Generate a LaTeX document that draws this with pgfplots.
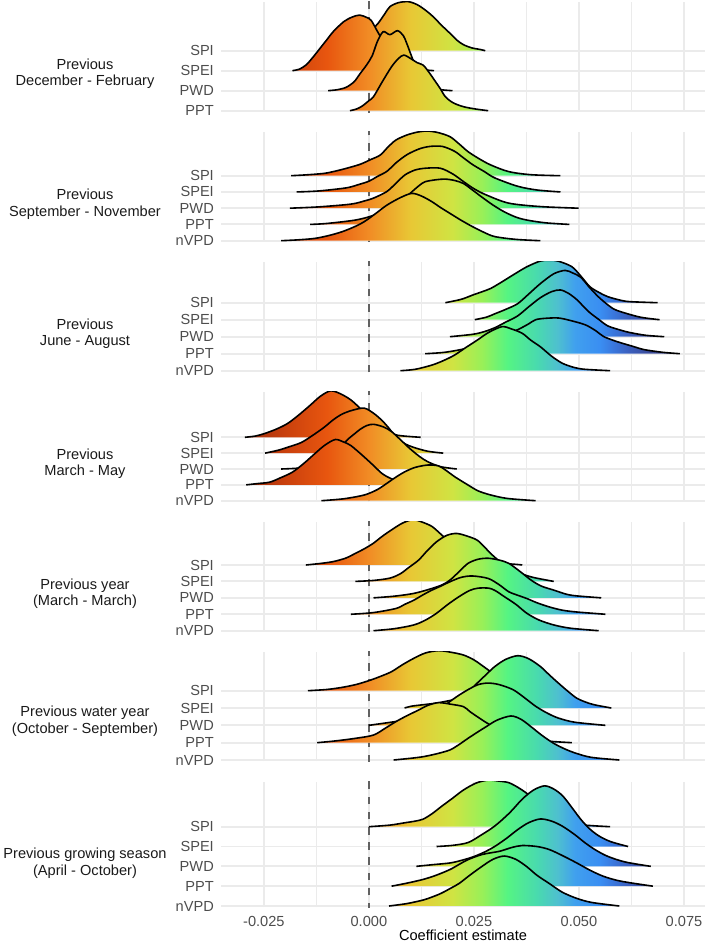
\documentclass[border=0pt]{standalone}
\usepackage{fontspec}
\setmainfont{Liberation Sans}
\usepackage{pgfplots}
\usepackage{pgfplotstable}
\pgfplotsset{compat=1.18}

\definecolor{gridgrey}{HTML}{EBEBEB}
\definecolor{ticktext}{HTML}{4D4D4D}
\definecolor{striptext}{HTML}{1A1A1A}
\definecolor{zeroline}{HTML}{616161}
% fill colours along the coefficient axis
\definecolor{gA}{HTML}{8A260B}
\definecolor{gB}{HTML}{9B2D0C}
\definecolor{gC}{HTML}{C9400D}
\definecolor{gD}{HTML}{E8560F}
\definecolor{gE}{HTML}{F18C25}
\definecolor{gF}{HTML}{E8C835}
\definecolor{gG}{HTML}{CFE443}
\definecolor{gH}{HTML}{98F058}
\definecolor{gI}{HTML}{55F483}
\definecolor{gJ}{HTML}{49DAAE}
\definecolor{gK}{HTML}{4EBFD0}
\definecolor{gL}{HTML}{40A0EE}
\definecolor{gM}{HTML}{3A8EF2}
\definecolor{gO}{HTML}{3A78DE}
\definecolor{gP}{HTML}{3B5EBC}
\definecolor{gQ}{HTML}{3A4A98}
\definecolor{gR}{HTML}{363E80}
\definecolor{gN}{HTML}{33387A}
% 25bp..75bp spans x = -0.0352 .. 0.0800
\pgfdeclarehorizontalshading{coefgrad}{100bp}{color(0bp)=(gA); color(25bp)=(gA);
  color(27.26bp)=(gB); color(31.60bp)=(gC); color(35.94bp)=(gD); color(40.28bp)=(gE);
  color(44.62bp)=(gF); color(48.96bp)=(gG); color(52.00bp)=(gH); color(54.60bp)=(gI);
  color(57.64bp)=(gJ); color(59.81bp)=(gK); color(61.55bp)=(gL); color(64.15bp)=(gM);
  color(65.45bp)=(gO); color(67.19bp)=(gP); color(69.36bp)=(gQ); color(71.96bp)=(gR);
  color(75bp)=(gN); color(100bp)=(gN)}

\newcommand{\labfont}{\fontsize{14.6bp}{16.8bp}\selectfont}

% ---------- posterior densities: x = coefficient, h = ridge height (row units)
% Previous December - February
\pgfplotstableread{
x h
-0.0107 0
-0.0080 0.06
-0.0050 0.20
-0.0020 0.55
0.0005 1.00
0.0022 1.37
0.0038 1.85
0.0050 2.20
0.0070 2.40
0.0094 2.45
0.0115 2.30
0.0135 2.02
0.0153 1.70
0.0173 1.27
0.0193 0.87
0.0210 0.52
0.0225 0.30
0.0245 0.14
0.0265 0.06
0.0277 0
}\pAspi
\pgfplotstableread{
x h
-0.0182 0
-0.0165 0.08
-0.0150 0.28
-0.0140 0.50
-0.0129 0.78
-0.0117 1.10
-0.0100 1.55
-0.0085 1.95
-0.0060 2.45
-0.0040 2.68
-0.0022 2.78
-0.0005 2.66
0.0006 2.50
0.0022 1.90
0.0038 1.35
0.0052 0.95
0.0075 0.45
0.0100 0.18
0.0125 0.06
0.0155 0
}\pAspei
\pgfplotstableread{
x h
-0.0097 0
-0.0075 0.05
-0.0054 0.17
-0.0035 0.45
-0.0021 0.85
-0.0005 1.30
0.0008 1.75
0.0020 2.45
0.0034 2.95
0.0050 2.80
0.0068 3.00
0.0082 2.75
0.0090 2.37
0.0102 1.70
0.0115 1.00
0.0129 0.35
0.0150 0.12
0.0175 0.04
0.0199 0
}\pApwd
\pgfplotstableread{
x h
-0.0045 0
-0.0030 0.08
-0.0016 0.23
0.0000 0.50
0.0011 0.70
0.0032 1.45
0.0054 2.20
0.0070 2.60
0.0083 2.78
0.0100 2.60
0.0115 2.40
0.0129 2.28
0.0142 1.95
0.0156 1.53
0.0170 1.10
0.0182 0.70
0.0200 0.40
0.0225 0.20
0.0255 0.08
0.0284 0
}\pAppt
% Previous September - November
\pgfplotstableread{
x h
-0.0185 0
-0.0150 0.05
-0.0107 0.14
-0.0080 0.28
-0.0054 0.45
-0.0021 0.70
0.0005 1.00
0.0027 1.27
0.0045 1.75
0.0064 2.19
0.0090 2.50
0.0115 2.68
0.0139 2.75
0.0165 2.65
0.0193 2.40
0.0215 1.95
0.0236 1.48
0.0262 1.05
0.0290 0.66
0.0333 0.25
0.0386 0.06
0.0456 0
}\pBspi
\pgfplotstableread{
x h
-0.0172 0
-0.0120 0.06
-0.0054 0.25
-0.0025 0.45
0.0000 0.66
0.0020 0.95
0.0043 1.27
0.0065 1.80
0.0091 2.30
0.0120 2.65
0.0145 2.80
0.0175 2.80
0.0204 2.50
0.0225 2.10
0.0247 1.68
0.0275 1.25
0.0300 0.86
0.0354 0.35
0.0400 0.12
0.0456 0
}\pBspei
\pgfplotstableread{
x h
-0.0188 0
-0.0120 0.08
-0.0043 0.25
-0.0010 0.45
0.0011 0.62
0.0043 1.03
0.0065 1.55
0.0086 2.05
0.0110 2.35
0.0135 2.46
0.0170 2.46
0.0200 2.10
0.0225 1.64
0.0250 1.20
0.0279 0.82
0.0333 0.31
0.0408 0.10
0.0499 0
}\pBpwd
\pgfplotstableread{
x h
-0.0140 0
-0.0100 0.06
-0.0032 0.27
0.0010 0.55
0.0050 1.00
0.0080 1.50
0.0102 2.00
0.0120 2.40
0.0134 2.63
0.0160 2.75
0.0182 2.79
0.0205 2.70
0.0225 2.52
0.0245 2.15
0.0268 1.70
0.0295 1.20
0.0322 0.78
0.0350 0.45
0.0376 0.27
0.0420 0.10
0.0477 0
}\pBppt
\pgfplotstableread{
x h
-0.0209 0
-0.0170 0.05
-0.0129 0.14
-0.0095 0.32
-0.0064 0.55
-0.0035 0.85
-0.0011 1.17
0.0015 1.65
0.0043 2.19
0.0075 2.65
0.0102 2.91
0.0125 2.75
0.0150 2.40
0.0170 2.05
0.0193 1.68
0.0220 1.25
0.0247 0.86
0.0275 0.50
0.0300 0.25
0.0350 0.08
0.0408 0
}\pBnvpd
% Previous June - August
\pgfplotstableread{
x h
0.0182 0
0.0220 0.20
0.0247 0.45
0.0270 0.65
0.0290 0.84
0.0315 1.20
0.0343 1.63
0.0375 2.10
0.0408 2.45
0.0430 2.50
0.0450 2.45
0.0483 2.12
0.0505 1.55
0.0526 0.94
0.0548 0.60
0.0569 0.35
0.0600 0.14
0.0622 0.06
0.0687 0
}\pCspi
\pgfplotstableread{
x h
0.0252 0
0.0280 0.15
0.0300 0.35
0.0325 0.60
0.0354 0.94
0.0380 1.50
0.0408 2.12
0.0440 2.70
0.0467 2.90
0.0485 2.75
0.0504 2.50
0.0525 1.90
0.0547 1.33
0.0570 0.85
0.0590 0.55
0.0644 0.16
0.0692 0
}\pCspei
\pgfplotstableread{
x h
0.0193 0
0.0247 0.14
0.0275 0.30
0.0300 0.53
0.0325 0.85
0.0354 1.22
0.0380 1.75
0.0408 2.29
0.0435 2.65
0.0456 2.75
0.0475 2.55
0.0494 2.20
0.0510 1.80
0.0526 1.41
0.0548 1.00
0.0569 0.63
0.0600 0.38
0.0622 0.24
0.0660 0.08
0.0703 0
}\pCpwd
\pgfplotstableread{
x h
0.0134 0
0.0180 0.08
0.0230 0.30
0.0270 0.60
0.0310 0.95
0.0354 1.41
0.0380 1.75
0.0397 2.00
0.0420 2.08
0.0451 2.10
0.0480 1.95
0.0515 1.70
0.0540 1.35
0.0558 1.02
0.0580 0.80
0.0601 0.63
0.0630 0.42
0.0655 0.24
0.0700 0.08
0.0740 0
}\pCppt
\pgfplotstableread{
x h
0.0075 0
0.0110 0.08
0.0150 0.33
0.0178 0.60
0.0204 0.92
0.0230 1.35
0.0258 1.80
0.0285 2.25
0.0317 2.59
0.0340 2.45
0.0365 2.20
0.0385 1.80
0.0408 1.41
0.0435 0.85
0.0461 0.43
0.0490 0.18
0.0515 0.08
0.0574 0
}\pCnvpd
% Previous March - May
\pgfplotstableread{
x h
-0.0295 0
-0.0270 0.08
-0.0247 0.25
-0.0220 0.52
-0.0193 0.88
-0.0165 1.45
-0.0139 2.04
-0.0115 2.60
-0.0091 2.93
-0.0068 2.75
-0.0043 2.36
-0.0020 1.80
0.0000 1.20
0.0020 0.70
0.0043 0.36
0.0070 0.12
0.0123 0
}\pDspi
\pgfplotstableread{
x h
-0.0247 0
-0.0215 0.19
-0.0190 0.40
-0.0161 0.67
-0.0135 1.10
-0.0107 1.62
-0.0085 2.10
-0.0064 2.46
-0.0040 2.70
-0.0011 2.84
0.0012 2.50
0.0032 2.04
0.0050 1.50
0.0064 1.00
0.0085 0.60
0.0107 0.36
0.0140 0.12
0.0177 0
}\pDspei
\pgfplotstableread{
x h
-0.0209 0
-0.0170 0.05
-0.0130 0.20
-0.0090 0.70
-0.0054 1.77
-0.0035 2.20
-0.0021 2.50
-0.0005 2.74
0.0011 2.82
0.0035 2.65
0.0054 2.36
0.0075 1.85
0.0097 1.30
0.0120 0.80
0.0140 0.46
0.0170 0.15
0.0209 0
}\pDpwd
\pgfplotstableread{
x h
-0.0292 0
-0.0265 0.08
-0.0236 0.17
-0.0210 0.45
-0.0182 0.80
-0.0155 1.35
-0.0129 1.96
-0.0105 2.50
-0.0080 2.86
-0.0060 2.70
-0.0043 2.48
-0.0015 1.85
0.0011 1.22
0.0032 0.70
0.0054 0.38
0.0080 0.15
0.0110 0.05
0.0140 0
}\pDppt
\pgfplotstableread{
x h
-0.0113 0
-0.0060 0.12
-0.0011 0.36
0.0020 0.70
0.0043 1.10
0.0065 1.50
0.0086 1.83
0.0110 2.10
0.0140 2.25
0.0165 2.20
0.0182 1.94
0.0205 1.50
0.0236 0.99
0.0260 0.62
0.0290 0.36
0.0330 0.14
0.0397 0
}\pDnvpd
% Previous year (March - March)
\pgfplotstableread{
x h
-0.0150 0
-0.0120 0.08
-0.0086 0.20
-0.0055 0.42
-0.0032 0.71
-0.0010 1.00
0.0011 1.33
0.0032 1.75
0.0054 2.14
0.0080 2.55
0.0105 2.76
0.0128 2.60
0.0150 2.35
0.0166 2.00
0.0182 1.63
0.0205 1.15
0.0230 0.75
0.0260 0.42
0.0290 0.22
0.0320 0.10
0.0354 0.03
0.0365 0
}\pEspi
\pgfplotstableread{
x h
-0.0032 0
0.0011 0.06
0.0050 0.20
0.0075 0.47
0.0095 0.85
0.0118 1.29
0.0140 1.90
0.0161 2.41
0.0185 2.80
0.0209 2.92
0.0235 2.75
0.0258 2.51
0.0275 2.10
0.0290 1.70
0.0310 1.25
0.0335 0.82
0.0360 0.50
0.0390 0.25
0.0440 0
}\pEspei
\pgfplotstableread{
x h
0.0011 0
0.0060 0.10
0.0107 0.27
0.0150 0.57
0.0175 0.80
0.0193 1.08
0.0215 1.60
0.0236 2.10
0.0260 2.35
0.0284 2.41
0.0310 2.30
0.0333 2.10
0.0360 1.60
0.0386 1.08
0.0410 0.72
0.0440 0.47
0.0470 0.22
0.0494 0.12
0.0553 0
}\pEpwd
\pgfplotstableread{
x h
-0.0043 0
0.0010 0.10
0.0064 0.35
0.0085 0.60
0.0107 0.86
0.0130 1.20
0.0150 1.47
0.0170 1.70
0.0193 1.98
0.0220 2.25
0.0247 2.33
0.0284 2.18
0.0310 1.80
0.0333 1.37
0.0355 1.15
0.0376 0.96
0.0400 0.70
0.0429 0.45
0.0460 0.25
0.0494 0.14
0.0563 0
}\pEppt
\pgfplotstableread{
x h
0.0011 0
0.0060 0.12
0.0107 0.35
0.0135 0.65
0.0161 1.06
0.0188 1.60
0.0215 2.08
0.0240 2.45
0.0260 2.59
0.0285 2.59
0.0300 2.45
0.0322 2.08
0.0350 1.60
0.0376 1.06
0.0405 0.65
0.0440 0.35
0.0480 0.15
0.0547 0
}\pEnvpd
% Previous water year (October - September)
\pgfplotstableread{
x h
-0.0145 0
-0.0100 0.07
-0.0064 0.19
-0.0030 0.36
0.0000 0.58
0.0027 0.82
0.0054 1.10
0.0080 1.50
0.0107 1.87
0.0135 2.18
0.0166 2.31
0.0195 2.22
0.0225 2.06
0.0250 1.78
0.0268 1.48
0.0290 1.10
0.0315 0.75
0.0345 0.45
0.0380 0.22
0.0420 0.08
0.0467 0
}\pFspi
\pgfplotstableread{
x h
0.0085 0
0.0100 0.10
0.0129 0.19
0.0160 0.28
0.0182 0.38
0.0205 0.50
0.0225 0.67
0.0240 1.00
0.0258 1.44
0.0280 1.95
0.0300 2.40
0.0325 2.80
0.0354 3.02
0.0380 2.85
0.0408 2.40
0.0430 1.90
0.0451 1.44
0.0472 1.00
0.0494 0.58
0.0515 0.35
0.0536 0.19
0.0577 0
}\pFspei
\pgfplotstableread{
x h
0.0000 0
0.0064 0.22
0.0100 0.35
0.0140 0.62
0.0170 0.95
0.0193 1.38
0.0215 1.75
0.0236 2.06
0.0260 2.35
0.0284 2.44
0.0310 2.35
0.0343 2.06
0.0370 1.60
0.0397 1.10
0.0425 0.70
0.0451 0.42
0.0490 0.18
0.0563 0
}\pFpwd
\pgfplotstableread{
x h
-0.0123 0
-0.0080 0.10
-0.0032 0.25
0.0011 0.44
0.0040 0.85
0.0064 1.21
0.0090 1.55
0.0118 1.88
0.0140 2.15
0.0166 2.31
0.0195 2.22
0.0225 2.08
0.0240 1.80
0.0258 1.50
0.0280 1.15
0.0310 0.75
0.0340 0.45
0.0380 0.22
0.0430 0.08
0.0483 0
}\pFppt
\pgfplotstableread{
x h
0.0059 0
0.0100 0.10
0.0129 0.19
0.0160 0.35
0.0193 0.58
0.0215 0.90
0.0236 1.25
0.0258 1.60
0.0279 1.92
0.0305 2.30
0.0338 2.54
0.0362 2.35
0.0386 1.92
0.0412 1.42
0.0440 0.96
0.0468 0.62
0.0494 0.38
0.0530 0.15
0.0596 0
}\pFnvpd
% Previous growing season (April - October)
\pgfplotstableread{
x h
0.0000 0
0.0050 0.08
0.0086 0.20
0.0110 0.28
0.0129 0.38
0.0150 0.65
0.0172 1.01
0.0200 1.45
0.0225 1.85
0.0255 2.20
0.0284 2.35
0.0310 2.30
0.0333 2.22
0.0355 1.98
0.0376 1.68
0.0400 1.25
0.0425 0.85
0.0450 0.50
0.0480 0.22
0.0504 0.10
0.0540 0.04
0.0574 0
}\pGspi
\pgfplotstableread{
x h
0.0161 0
0.0200 0.06
0.0236 0.20
0.0265 0.55
0.0300 1.04
0.0335 1.70
0.0365 2.39
0.0392 2.85
0.0418 3.06
0.0440 2.90
0.0461 2.56
0.0482 2.00
0.0504 1.38
0.0525 0.90
0.0547 0.54
0.0575 0.25
0.0617 0
}\pGspei
\pgfplotstableread{
x h
0.0113 0
0.0150 0.08
0.0193 0.17
0.0220 0.30
0.0247 0.47
0.0275 0.72
0.0300 1.01
0.0328 1.42
0.0354 1.85
0.0380 2.20
0.0408 2.39
0.0435 2.28
0.0461 2.02
0.0490 1.60
0.0515 1.18
0.0540 0.82
0.0569 0.50
0.0610 0.22
0.0671 0
}\pGpwd
\pgfplotstableread{
x h
0.0054 0
0.0090 0.15
0.0129 0.34
0.0160 0.55
0.0193 0.84
0.0215 1.10
0.0236 1.34
0.0270 1.60
0.0311 1.76
0.0340 1.95
0.0365 2.05
0.0400 2.00
0.0429 1.85
0.0460 1.55
0.0494 1.18
0.0525 0.82
0.0558 0.50
0.0600 0.25
0.0676 0
}\pGppt
\pgfplotstableread{
x h
0.0048 0
0.0090 0.12
0.0129 0.30
0.0150 0.45
0.0172 0.64
0.0195 0.90
0.0215 1.14
0.0240 1.55
0.0268 1.98
0.0295 2.35
0.0322 2.52
0.0350 2.35
0.0376 1.98
0.0400 1.55
0.0429 1.14
0.0460 0.70
0.0494 0.39
0.0530 0.18
0.0596 0
}\pGnvpd

% colour the inside of a ridge by its position on the x axis
\newcommand{\coefshade}{%
  \pgfpathrectanglecorners{\pgfplotspointaxisxy{-0.0352}{-5}}{\pgfplotspointaxisxy{0.0800}{20}}%
  \pgfshadepath{coefgrad}{0}%
  \pgfusepath{discard}}

\pgfplotsset{
  panel/.style={
    scale only axis, width=484bp, anchor=south west,
    xmin=-0.0352, xmax=0.0800,
    scaled x ticks=false,
    xtick={-0.025,0,0.025,0.05,0.075},
    minor xtick={-0.0125,0.0125,0.0375,0.0625},
    xticklabels={},
    xmajorgrids, xminorgrids, ymajorgrids,
    major grid style={line width=1.9bp, color=gridgrey},
    minor grid style={line width=0.95bp, color=gridgrey},
    axis line style={draw=none},
    major tick length=0pt, minor tick length=0pt,
    yticklabel style={font=\labfont, text=ticktext, anchor=east, inner sep=0pt, xshift=-7bp},
  },
  ridgefill/.style={draw=none, fill=white, smooth, tension=0.5, path picture={\coefshade}},
  ridgeline/.style={black, line width=1.6bp, line join=round, smooth, tension=0.5, no markers},
  zerodash/.style={zeroline, line width=1.9bp, dash pattern=on 7.6bp off 7.6bp},
}
\newcommand{\ridge}[2]{%
  \addplot[ridgefill] table[x=x, y expr={\thisrow{h}+#1}] {#2};
  \addplot[ridgeline] table[x=x, y expr={\thisrow{h}+#1}] {#2};
}
\newcommand{\zerolinev}{\addplot[zerodash] coordinates {(0,0) (0,9)};}

\begin{document}
\begin{tikzpicture}
\path[use as bounding box] (0,0) rectangle (706bp,944bp);

\begin{axis}[panel, at={(221bp,831.8bp)}, height=110.5bp, ymin=0.925, ymax=6.45,
  ytick={1,2,3,4}, yticklabels={PPT,PWD,SPEI,SPI}]
  \zerolinev
  \ridge{4}{\pAspi}
  \ridge{3}{\pAspei}
  \ridge{2}{\pApwd}
  \ridge{1}{\pAppt}
\end{axis}

\begin{axis}[panel, at={(221bp,701.8bp)}, height=110.5bp, ymin=0.9077, ymax=7.7077,
  ytick={1,...,5}, yticklabels={nVPD,PPT,PWD,SPEI,SPI}]
  \zerolinev
  \ridge{5}{\pBspi}
  \ridge{4}{\pBspei}
  \ridge{3}{\pBpwd}
  \ridge{2}{\pBppt}
  \ridge{1}{\pBnvpd}
\end{axis}

\begin{axis}[panel, at={(221bp,571.8bp)}, height=110.5bp, ymin=0.9118, ymax=7.4118,
  ytick={1,...,5}, yticklabels={nVPD,PPT,PWD,SPEI,SPI}]
  \zerolinev
  \ridge{5}{\pCspi}
  \ridge{4}{\pCspei}
  \ridge{3}{\pCpwd}
  \ridge{2}{\pCppt}
  \ridge{1}{\pCnvpd}
\end{axis}

\begin{axis}[panel, at={(221bp,441.8bp)}, height=110.5bp, ymin=0.9054, ymax=7.877,
  ytick={1,...,5}, yticklabels={nVPD,PPT,PWD,SPEI,SPI}]
  \zerolinev
  \ridge{5}{\pDspi}
  \ridge{4}{\pDspei}
  \ridge{3}{\pDpwd}
  \ridge{2}{\pDppt}
  \ridge{1}{\pDnvpd}
\end{axis}

\begin{axis}[panel, at={(221bp,311.8bp)}, height=110.5bp, ymin=0.9087, ymax=7.6362,
  ytick={1,...,5}, yticklabels={nVPD,PPT,PWD,SPEI,SPI}]
  \zerolinev
  \ridge{5}{\pEspi}
  \ridge{4}{\pEspei}
  \ridge{3}{\pEpwd}
  \ridge{2}{\pEppt}
  \ridge{1}{\pEnvpd}
\end{axis}

\begin{axis}[panel, at={(221bp,182.5bp)}, height=109.8bp, ymin=0.9134, ymax=7.2511,
  ytick={1,...,5}, yticklabels={nVPD,PPT,PWD,SPEI,SPI}]
  \zerolinev
  \ridge{5}{\pFspi}
  \ridge{4}{\pFspei}
  \ridge{3}{\pFpwd}
  \ridge{2}{\pFppt}
  \ridge{1}{\pFnvpd}
\end{axis}

\begin{axis}[panel, at={(221bp,36.5bp)}, height=125.8bp, ymin=0.9243, ymax=7.2699,
  ytick={1,...,5}, yticklabels={nVPD,PPT,PWD,SPEI,SPI},
  xticklabels={-0.025,0.000,0.025,0.050,0.075},
  xticklabel style={font=\labfont, text=ticktext, anchor=base, inner sep=0pt, yshift=-19.5bp}]
  \zerolinev
  \ridge{5}{\pGspi}
  \ridge{4}{\pGspei}
  \ridge{3}{\pGpwd}
  \ridge{2}{\pGppt}
  \ridge{1}{\pGnvpd}
\end{axis}

% period labels
\begin{scope}[every node/.style={font=\labfont, text=striptext, align=center}]
  \node at (85bp,870.2bp) {Previous\\December - February};
  \node at (85bp,740.0bp) {Previous\\September - November};
  \node at (85bp,610.2bp) {Previous\\June - August};
  \node at (85bp,480.2bp) {Previous\\March - May};
  \node at (85bp,350.2bp) {Previous year\\(March - March)};
  \node at (85bp,222.5bp) {Previous water year\\(October - September)};
  \node at (85bp,80.5bp) {Previous growing season\\(April - October)};
\end{scope}
\node[font=\labfont, anchor=base] at (463bp,3.5bp) {Coefficient estimate};
\end{tikzpicture}
\end{document}
